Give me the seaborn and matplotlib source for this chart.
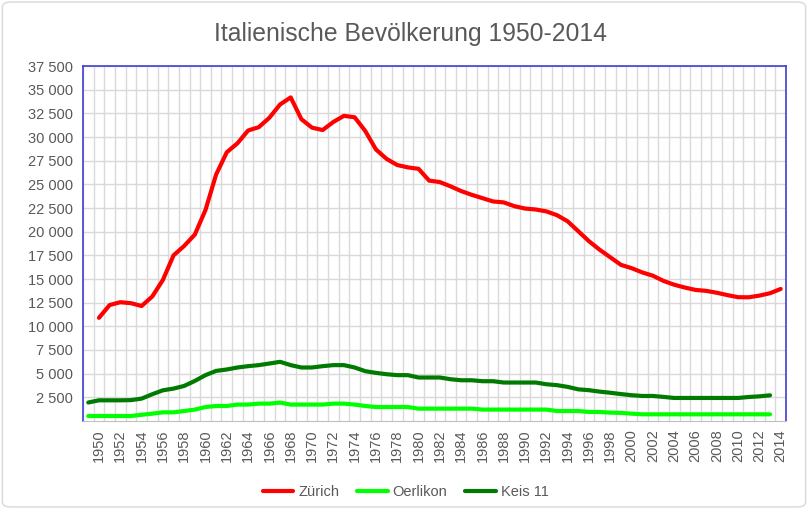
import matplotlib.pyplot as plt
import matplotlib.ticker as mticker
from matplotlib.patches import FancyBboxPatch
import numpy as np
import pandas as pd
import seaborn as sns

# Zürich is read from 1950 on, the two Kreis series sit one slot to the left
years_zuerich = list(range(1950, 2015))
zuerich = [10900, 12250, 12550, 12450, 12150, 13150, 14900, 17500, 18500, 19700,
           22300, 26050, 28400, 29350, 30700, 31050, 32050, 33450, 34200, 31900,
           31000, 30750, 31600, 32250, 32100, 30650, 28700, 27700, 27050, 26800,
           26650, 25400, 25250, 24800, 24300, 23900, 23550, 23200, 23100, 22700,
           22450, 22350, 22150, 21750, 21100, 20050, 19000, 18100, 17300, 16500,
           16150, 15700, 15350, 14800, 14400, 14100, 13850, 13750, 13550, 13300,
           13080, 13070, 13250, 13500, 13950]

years_kreis = list(range(1949, 2014))
oerlikon = [520, 520, 520, 520, 520, 650, 770, 910, 910, 1050,
            1200, 1470, 1580, 1580, 1730, 1730, 1830, 1830, 1940, 1730,
            1730, 1730, 1730, 1830, 1830, 1730, 1580, 1470, 1470, 1470,
            1470, 1300, 1300, 1300, 1300, 1300, 1300, 1200, 1200, 1200,
            1200, 1200, 1200, 1200, 1050, 1050, 1050, 950, 950, 880,
            850, 770, 700, 700, 700, 700, 700, 700, 700, 700,
            700, 700, 700, 700, 700]
kreis11 = [1950, 2180, 2180, 2180, 2200, 2360, 2820, 3240, 3420, 3700,
           4230, 4840, 5290, 5440, 5650, 5790, 5900, 6070, 6250, 5900,
           5650, 5650, 5790, 5900, 5900, 5650, 5260, 5080, 4940, 4840,
           4840, 4590, 4590, 4590, 4410, 4300, 4300, 4200, 4200, 4060,
           4060, 4060, 4060, 3880, 3780, 3600, 3340, 3250, 3100, 2980,
           2840, 2720, 2640, 2640, 2540, 2430, 2430, 2430, 2430, 2430,
           2430, 2430, 2530, 2600, 2710]

series_names = ['Zürich', 'Oerlikon', 'Keis 11']
series_colors = ['#ff0000', '#00ff00', '#007a00']

df = pd.concat([
    pd.DataFrame({'Jahr': years_zuerich, 'Wert': zuerich, 'Gebiet': 'Zürich'}),
    pd.DataFrame({'Jahr': years_kreis, 'Wert': oerlikon, 'Gebiet': 'Oerlikon'}),
    pd.DataFrame({'Jahr': years_kreis, 'Wert': kreis11, 'Gebiet': 'Keis 11'}),
])

sns.set_style('white')
plt.rcParams['font.family'] = ['Liberation Sans', 'DejaVu Sans']
grey = '#595959'

fig = plt.figure(figsize=(8.08, 5.09), dpi=100)
ax = fig.add_axes([0.1027, 0.173, 0.8701, 0.697])

sns.lineplot(data=df, x='Jahr', y='Wert', hue='Gebiet', hue_order=series_names,
             palette=series_colors, linewidth=3, ax=ax)

ax.set_xlim(1948.5, 2014.5)
ax.set_ylim(0, 37500)
ax.set_xlabel('')
ax.set_ylabel('')

# even years labelled, grid at every slot boundary
ax.set_xticks(range(1950, 2015, 2))
ax.set_xticks(np.arange(1948.5, 2015, 1), minor=True)
ax.tick_params(axis='x', which='major', length=0, rotation=90, labelsize=10.5,
               labelcolor=grey, pad=6)
ax.tick_params(axis='x', which='minor', length=4, color='#bfbfbf', direction='out')
ax.grid(True, axis='x', which='minor', color='#d9d9d9', linewidth=1)

ax.set_yticks(range(2500, 37501, 2500))
ax.yaxis.set_major_formatter(mticker.FuncFormatter(lambda v, p: f'{v:,.0f}'.replace(',', ' ')))
ax.tick_params(axis='y', length=0, labelsize=10.5, labelcolor=grey, pad=7)
ax.grid(True, axis='y', which='major', color='#d9d9d9', linewidth=1)
ax.set_axisbelow(True)

for side in ['left', 'top', 'right']:
    ax.spines[side].set_color('#3f3fcf')
    ax.spines[side].set_linewidth(1.2)
ax.spines['bottom'].set_color('#bfbfbf')

fig.suptitle('Italienische Bevölkerung 1950-2014', x=0.508, y=0.934, va='center',
             fontsize=17.8, color=grey)

sns.move_legend(ax, 'center', bbox_to_anchor=(0.502, 0.033), bbox_transform=fig.transFigure,
                ncol=3, frameon=False, title=None, fontsize=10.5, handlelength=2.1,
                handletextpad=0.35, columnspacing=1.2)
for t in ax.get_legend().get_texts():
    t.set_color(grey)

fig.patches.append(FancyBboxPatch((0.003, 0.004), 0.994, 0.992, boxstyle='round,pad=0,rounding_size=0.01',
                                  transform=fig.transFigure, fill=False,
                                  edgecolor='#d9d9d9', linewidth=1))

fig.savefig('out.png', dpi=100)
